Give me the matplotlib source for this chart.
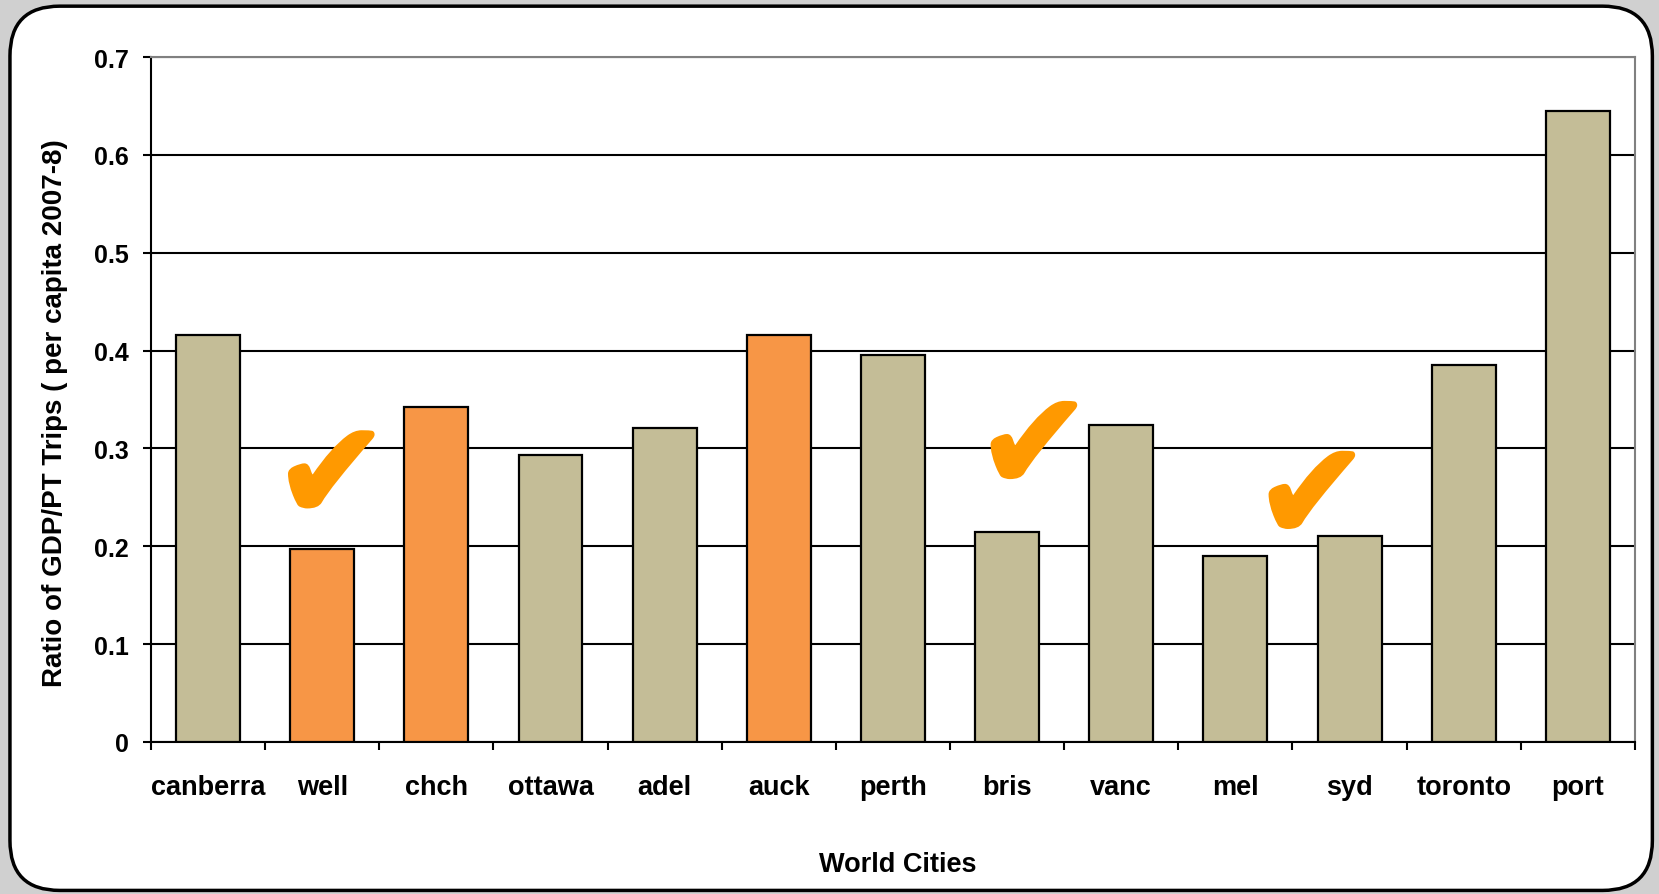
import matplotlib.pyplot as plt
import matplotlib.patheffects as pe
from matplotlib.patches import FancyBboxPatch
import numpy as np

# data
cities = ['canberra', 'well', 'chch', 'ottawa', 'adel', 'auck', 'perth',
          'bris', 'vanc', 'mel', 'syd', 'toronto', 'port']
ratio = [0.416, 0.197, 0.342, 0.293, 0.321, 0.416, 0.396,
         0.215, 0.324, 0.190, 0.210, 0.385, 0.645]
highlight = ['well', 'chch', 'auck']
checked = ['well', 'bris', 'syd']

tan = '#C4BD97'
orange = '#F79646'
check_color = '#FF9900'

plt.rcParams['font.family'] = ['Liberation Sans', 'DejaVu Sans']
plt.rcParams['font.weight'] = 'bold'

fig = plt.figure(figsize=(16.59, 8.95), dpi=100)
fig.patch.set_facecolor('#D0D0D0')

# rounded white panel behind the chart
frame = FancyBboxPatch((0.006, 0.004), 0.99, 0.988,
                       boxstyle='round,pad=0,rounding_size=0.03',
                       transform=fig.transFigure, facecolor='white',
                       edgecolor='black', linewidth=2.5, zorder=-5,
                       mutation_aspect=1659 / 895)
fig.patches.append(frame)

ax = fig.add_axes([0.091, 0.170, 0.8945, 0.765])
ax.set_facecolor('none')
ax.set_zorder(2)

x = np.arange(len(cities))
colors = [orange if c in highlight else tan for c in cities]
ax.bar(x, ratio, width=0.56, color=colors, edgecolor='black', linewidth=1.6, zorder=3)

ax.set_xlim(-0.5, len(cities) - 0.5)
ax.set_ylim(0, 0.7)
ax.set_yticks(np.arange(0, 0.71, 0.1))
ax.set_yticklabels(['0', '0.1', '0.2', '0.3', '0.4', '0.5', '0.6', '0.7'])
ax.yaxis.grid(True, color='black', linewidth=1.5, zorder=0)
ax.set_axisbelow(True)

ax.set_xticks(x)
ax.set_xticklabels(cities)
ax.set_xticks(np.arange(-0.5, len(cities)), minor=True)
ax.tick_params(axis='x', which='major', length=0, pad=23, labelsize=19.5)
ax.tick_params(axis='x', which='minor', length=6, width=1.5, direction='out')
ax.tick_params(axis='y', length=6, width=1.5, direction='out', pad=10, labelsize=18)

for side in ['left', 'bottom']:
    ax.spines[side].set_color('black')
    ax.spines[side].set_linewidth(1.5)
for side in ['top', 'right']:
    ax.spines[side].set_color('#808080')
    ax.spines[side].set_linewidth(1.5)

ax.set_xlabel('World Cities', fontsize=19.5, fontweight='bold', labelpad=37)
ax.xaxis.label.set_x(0.503)
ax.set_ylabel('Ratio of GDP/PT Trips ( per capita 2007-8)', fontsize=20,
              fontweight='bold')
ax.yaxis.set_label_coords(-0.056, 0.482)

# orange check marks over the ticked cities
check_offset = {'well': (0.08, 0.267), 'bris': (0.235, 0.297), 'syd': (-0.33, 0.246)}
for c in checked:
    i = cities.index(c)
    dx, y = check_offset[c]
    ax.text(i + dx, y, '\u2714', family=['DejaVu Sans'], fontsize=98,
            color=check_color, ha='center', va='center', zorder=4,
            path_effects=[pe.withStroke(linewidth=3, foreground=check_color)])

fig.savefig('out.png', dpi=100, facecolor=fig.get_facecolor())
